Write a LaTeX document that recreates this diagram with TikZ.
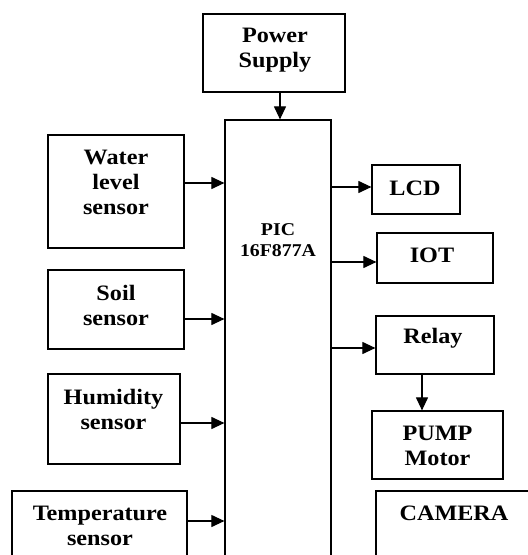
\documentclass[tikz,border=0pt]{standalone}
\usepackage{fontspec}
\setmainfont[FakeStretch=1.1]{Liberation Serif}
\usetikzlibrary{arrows.meta,positioning}

\begin{document}
\begin{tikzpicture}[
    x=1pt, y=-1pt,
    block/.style={draw, line width=1.2pt, inner sep=0pt},
    lbl/.style={align=center, inner sep=0pt, font=\bfseries\fontsize{22}{25}\selectfont},
    arrow/.style={-{Triangle[length=13pt, width=12pt]}, line width=1.1pt}
  ]
    \clip (0,0) rectangle (528,555);

    % blocks
    \node[block, minimum width=142, minimum height=78] (power) at (274,53) {};
    \node[block, minimum width=106, minimum height=455] (pic) at (278,347.5) {};
    \node[block, minimum width=136, minimum height=113] (water) at (116,191.5) {};
    \node[block, minimum width=136, minimum height=79] (soil) at (116,309.5) {};
    \node[block, minimum width=132, minimum height=90] (humidity) at (114,419) {};
    \node[block, minimum width=175, minimum height=89] (temp) at (99.5,535.5) {};
    \node[block, minimum width=88, minimum height=49] (lcd) at (416,189.5) {};
    \node[block, minimum width=116, minimum height=50] (iot) at (435,258) {};
    \node[block, minimum width=118, minimum height=58] (relay) at (435,345) {};
    \node[block, minimum width=131, minimum height=68] (pump) at (437.5,445) {};
    \node[block, minimum width=164, minimum height=89] (camera) at (458,535.5) {};

    % texts
    \node[lbl] (power-t) at (275,50) {Power\\Supply};
    \node[lbl, font=\bfseries\fontsize{18}{21}\selectfont] (pic-t) at (278,240) {PIC\\16F877A};
    \node[lbl] (water-t) at (116,182.5) {Water\\level\\sensor};
    \node[lbl] (soil-t) at (116,305) {Soil\\sensor};
    \node[lbl] (humidity-t) at (113.5,409) {Humidity\\sensor};
    \node[lbl] (temp-t) at (100,525.5) {Temperature\\sensor};
    \node[lbl] (lcd-t) at (415,188) {LCD};
    \node[lbl] (iot-t) at (432,255) {IOT};
    \node[lbl] (relay-t) at (433,338) {Relay};
    \node[lbl] (pump-t) at (437.5,446) {PUMP\\Motor};
    \node[lbl] (camera-t) at (454,513) {CAMERA};

    % connectors
    \draw[arrow] (power.south -| 280,0) -- (pic.north -| 280,0);
    \draw[arrow] (water.east |- 0,183) -- (pic.west |- 0,183);
    \draw[arrow] (soil.east |- 0,319) -- (pic.west |- 0,319);
    \draw[arrow] (humidity.east |- 0,423) -- (pic.west |- 0,423);
    \draw[arrow] (temp.east |- 0,521) -- (pic.west |- 0,521);
    \draw[arrow] (pic.east |- 0,187) -- (lcd.west |- 0,187);
    \draw[arrow] (pic.east |- 0,262) -- (iot.west |- 0,262);
    \draw[arrow] (pic.east |- 0,348) -- (relay.west |- 0,348);
    \draw[arrow] (relay.south -| 422,0) -- (pump.north -| 422,0);
  \end{tikzpicture}
\end{document}
